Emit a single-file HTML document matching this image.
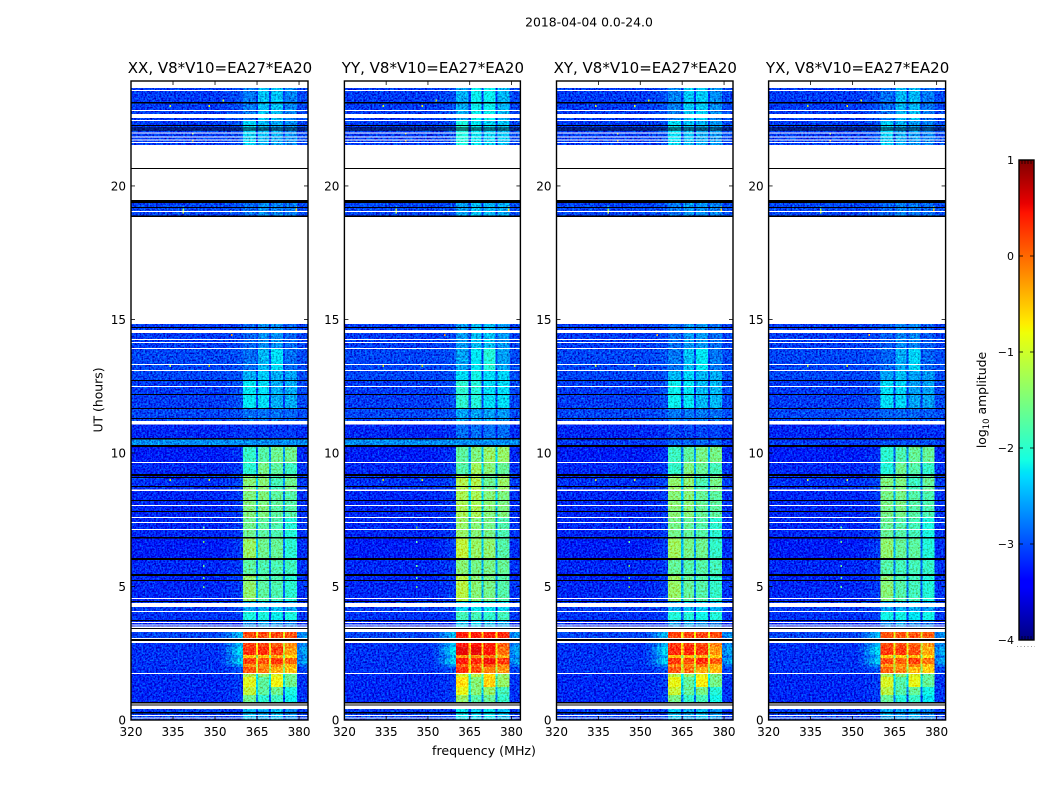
<!DOCTYPE html>
<html lang="en">
<head>
<meta charset="utf-8">
<title>2018-04-04 0.0-24.0</title>
<style>
html,body{margin:0;padding:0;background:#fff;width:1050px;height:800px;overflow:hidden}
svg{display:block}
text{font-family:"DejaVu Sans","Liberation Sans",sans-serif;fill:#000}
</style>
</head>
<body>
<svg id="figure" xmlns="http://www.w3.org/2000/svg" width="1050" height="800" viewBox="0 0 1050 800">
  <defs>
    <filter id="speckle" x="0" y="0" width="1" height="1" color-interpolation-filters="sRGB">
      <feTurbulence type="fractalNoise" baseFrequency="0.55" numOctaves="2" seed="4" result="n"/>
      <feColorMatrix in="n" type="matrix" values="0 0 0 0 .5  1 0 0 0 0  1 0 0 0 0  0 0 0 0 1" result="g"/>
      <feComposite in="SourceGraphic" in2="g" operator="arithmetic" k1="0" k2="1" k3="1.1" k4="-0.55" result="c"/>
      <feComposite in="c" in2="SourceAlpha" operator="in"/>
    </filter>
    <linearGradient id="jet-gradient" x1="0" y1="1" x2="0" y2="0"></linearGradient>
  </defs>
  <text x="589" y="26.5" font-size="12.4" text-anchor="middle">2018-04-04 0.0-24.0</text>
  <text transform="translate(102.5,400) rotate(-90)" font-size="12.4" text-anchor="middle">UT (hours)</text>
  <text x="484" y="755" font-size="12.6" text-anchor="middle">frequency (MHz)</text>
  <text transform="translate(986,400) rotate(-90)" font-size="12.4" text-anchor="middle">log<tspan font-size="8.5" dy="3">10</tspan><tspan dy="-3"> amplitude</tspan></text>
</svg>
<script>
// ---- categories and tick labels ----
const panelTitles = ["XX, V8*V10=EA27*EA20", "YY, V8*V10=EA27*EA20", "XY, V8*V10=EA27*EA20", "YX, V8*V10=EA27*EA20"];
const freqTicks = [320, 335, 350, 365, 380];
const hourTicks = [0, 5, 10, 15, 20];
const colorTicks = [1, 0, -1, -2, -3, -4];

// ---- frequency channels (MHz) ----
const freqEdges = [320, 335, 350, 352, 354, 356, 358, 360, 364.6, 365.4, 369.3, 370, 374.3, 375, 379.3, 381, 383.2];
const columnBand = [-1, -1, -1, -1, -1, -1, -1, 0, -2, 1, -2, 2, -2, 3, -1, -1];
const shoulderWeight = [0, 0, 0, 0.15, 0.4, 0.7, 1, 0, 0, 0, 0, 0, 0, 0, 0.5, 0.7];

// ---- time blocks: UT hours and log10 amplitude per frequency group ----
const blockStart = [0, 0.67, 0.94, 1.24, 1.61, 1.76, 1.99, 2.1, 2.32, 2.43, 2.73, 3.07, 3.41, 3.7, 4.08, 4.46, 5.39, 6.0, 6.82, 7.6, 8.6, 9.2, 9.66, 10.26, 10.56, 11.2, 11.69, 12.7, 13.11, 13.93, 18.88, 21.54, 22.45];
const blockEnd = [0.56, 0.94, 1.24, 1.61, 1.76, 1.99, 2.1, 2.32, 2.43, 2.73, 3.0, 3.35, 3.7, 4.08, 4.46, 5.39, 6.0, 6.82, 7.6, 8.6, 9.2, 9.66, 10.26, 10.56, 11.2, 11.69, 12.7, 13.11, 13.93, 14.83, 19.48, 22.45, 23.67];
const bgLevel = [-3.1, -3.2, -3.2, -3.2, -3.2, -3.15, -3.15, -3.15, -3.15, -3.15, -3.15, -3.05, -3.2, -3.15, -3.1, -3.2, -3.2, -3.25, -3.2, -3.2, -3.15, -3.2, -3.25, -3.1, -3.2, -3.05, -3.1, -3.05, -3.05, -3.1, -3.05, -3.1, -3.1];
const shoulderLevel = [-3.1, -3.1, -3.1, -3.1, -3.1, -3, -2.7, -2.35, -2.6, -2.3, -2.5, -2.5, -3.2, -3.1, -3.05, -3.1, -3.1, -3.1, -3.1, -3.1, -3.05, -3.1, -3.15, -3.1, -3.15, -3, -3, -3, -3, -3.05, -3, -3, -3];
const band1Level = [-2.5, -1.6, -1.1, -0.9, -1.2, 0.05, -0.2, 0.2, -0.5, 0.3, 0.2, 0.15, -2.7, -2.1, -2.6, -1.4, -1.7, -1.35, -1.6, -1.5, -1.45, -2, -1.95, -2.95, -3.1, -2.85, -2.25, -2.55, -2.85, -2.9, -2.85, -2.35, -2.8];
const band2Level = [-2.6, -2, -1.7, -1.7, -1.4, -0.1, -0.2, 0.1, -0.5, 0.3, 0.2, 0.15, -2.6, -2.1, -2.5, -1.7, -1.8, -1.6, -1.7, -1.5, -1.45, -1.55, -1.75, -2.95, -3.1, -2.85, -2.3, -2.4, -2.5, -2.7, -2.7, -2.5, -2.45];
const band3Level = [-2.5, -1.9, -1.6, -0.8, -0.9, -0.4, -0.1, 0.25, -0.4, 0.2, 0.1, 0.15, -2.7, -2.2, -2.5, -1.8, -1.8, -1.65, -1.8, -1.7, -1.85, -1.7, -1.6, -2.95, -3.1, -2.85, -2.55, -2.55, -2.3, -2.7, -2.75, -2.6, -2.45];
const band4Level = [-2.7, -2.2, -2.1, -1.6, -1.6, -0.5, -0.4, 0, -0.6, -0.3, -0.2, 0.1, -2.8, -2.1, -2.6, -2, -1.9, -2, -2.05, -1.75, -1.6, -1.9, -1.6, -2.95, -3.1, -2.9, -2.55, -2.6, -2.85, -2.9, -2.8, -2.7, -2.75];
const stripeLift = [0, 0, 0, 0, 0, 0, 0, 0, 0, 0, 0, 0, 0, 0, 0, 0, 0, 0, 0, 0, 0, 0, 0, 0.4, 0, 0, 0, 0, 0, 0, 0, 0, 0];

// ---- per-polarisation differences ----
const bandPolOffset = [0, 0.25, 0.05, -0.05];
const stripePolGain = [1, 1, 0, 0];

// ---- isolated interference spots ----
const spotHour = [23.0, 23.0, 23.2, 21.97, 21.7, 19.1, 19.05, 19.1, 14.42, 13.25, 13.25, 8.99, 8.99, 7.2, 6.67, 5.77, 5.32, 4.98, 19.2, 19.0, 19.2];
const spotMHz = [334, 348, 353, 342, 342, 338.6, 355.7, 379, 356, 334, 348, 334, 348, 346, 346, 346, 346, 346, 338.6, 338.6, 379];
const spotLevel = [-1, -0.8, -1, -1, -0.5, -1.2, -1.3, -0.5, -0.3, -1.2, -1.2, -1, -1, -1.6, -1.6, -1.6, -1.6, -1.6, -1.8, -1, -1];

// ---- flagged data: white = no data, black = flagged lines (UT hours) ----
const gapFrom = [23.67, 23.56, 22.81, 22.55, 22.43, 21.97, 21.82, 21.7, 21.6, 19.48, 19.03, 14.83, 14.49, 14.23, 14.12, 13.9, 13.3, 13.07, 12.47, 11.07, 9.63, 8.58, 8.01, 7.57, 7.38, 7.12, 4.53, 4.23, 4.04, 3.63, 3.54, 3.45, 3.3, 3.03, 2.88, 1.72, 0.58, 0.41, 0.15, 0.06];
const gapTo = [24, 23.6, 22.85, 22.7, 22.47, 22.01, 21.86, 21.74, 21.64, 21.54, 19.07, 18.88, 14.6, 14.27, 14.16, 13.93, 13.33, 13.11, 12.51, 11.2, 9.66, 8.63, 8.05, 7.6, 7.42, 7.16, 4.57, 4.38, 4.08, 3.67, 3.58, 3.5, 3.39, 3.07, 2.96, 1.76, 0.64, 0.54, 0.19, 0.09];
const flagFrom = [23.09, 22.25, 22.15, 22.08, 20.64, 19.36, 19.18, 18.84, 14.68, 12.7, 12.17, 11.65, 11.27, 10.51, 10.22, 9.14, 9.06, 8.73, 8.2, 7.79, 6.8, 5.99, 5.39, 5.21, 4.42, 3.71, 3.41, 2.96, 0.62, 0.54, 0.24];
const flagTo = [23.15, 22.28, 22.19, 22.12, 20.67, 19.48, 19.21, 18.9, 14.72, 12.73, 12.21, 11.69, 11.31, 10.56, 10.3, 9.21, 9.1, 8.76, 8.24, 7.83, 6.85, 6.07, 5.47, 5.24, 4.46, 3.75, 3.45, 3.03, 0.67, 0.58, 0.3];

// ---- axis limits ----
const freqMin = 320, freqMax = 383.2, hourMin = 0, hourMax = 23.93, ampMin = -4, ampMax = 1;

const SVGNS = "http://www.w3.org/2000/svg";
const fig = document.getElementById("figure");
const panelLefts = [131, 344.4, 556.5, 768.6], panelWidths = [177, 176, 176.5, 177], panelTop = 81, panelBottom = 720;
const cbLeft = 1019, cbRight = 1034, cbTop = 160, cbBottom = 640;

function yScale(h) { return panelBottom - (h - hourMin) / (hourMax - hourMin) * (panelBottom - panelTop); }
function xScale(f, left, width) { return left + (f - freqMin) / (freqMax - freqMin) * width; }
function cbScale(v) { return cbBottom - (v - ampMin) / (ampMax - ampMin) * (cbBottom - cbTop); }

function jetPart(t, stops) {
  for (let i = 1; i < stops.length; i++) {
    if (t <= stops[i][0]) {
      const a = stops[i - 1], b = stops[i];
      return a[1] + (b[1] - a[1]) * (t - a[0]) / (b[0] - a[0]);
    }
  }
  return stops[stops.length - 1][1];
}
const jetR = [[0, 0], [0.35, 0], [0.66, 1], [0.89, 1], [1, 0.5]];
const jetG = [[0, 0], [0.125, 0], [0.375, 1], [0.64, 1], [0.91, 0], [1, 0]];
const jetB = [[0, 0.5], [0.11, 1], [0.34, 1], [0.65, 0], [1, 0]];
function jet(v) {
  const t = Math.max(0, Math.min(1, (v - ampMin) / (ampMax - ampMin)));
  return "rgb(" + Math.round(255 * jetPart(t, jetR)) + "," + Math.round(255 * jetPart(t, jetG)) + "," + Math.round(255 * jetPart(t, jetB)) + ")";
}
function make(tag, parent, attrs) {
  const el = document.createElementNS(SVGNS, tag);
  for (const k in attrs) el.setAttribute(k, attrs[k]);
  parent.appendChild(el);
  return el;
}
function levelAt(b, c, pol) {
  const bands = [band1Level[b], band2Level[b], band3Level[b], band4Level[b]];
  const off = bandPolOffset[pol];
  const bg = bgLevel[b] + stripeLift[b] * stripePolGain[pol];
  const kind = columnBand[c];
  if (kind >= 0) return Math.max(bg, bands[kind] + off);
  if (kind === -2) {
    const left = columnBand[c - 1], right = columnBand[c + 1];
    return Math.max(bg, (bands[left] + bands[right]) / 2 + off - 1);
  }
  return bg + (shoulderLevel[b] - bgLevel[b]) * shoulderWeight[c];
}

panelTitles.forEach(function (title, p) {
  const left = panelLefts[p];
  const width = panelWidths[p];
  const right = left + width;
  const panel = make("g", fig, {});
  
  

  const cells = make("g", panel, { filter: "url(#speckle)", "shape-rendering": "crispEdges" });
  
  
  blockStart.forEach(function (start, b) {
    const y1 = yScale(blockEnd[b]), y0 = yScale(start);
    columnBand.forEach(function (kind, c) {
      const x0 = xScale(freqEdges[c], left, width), x1 = xScale(freqEdges[c + 1], left, width);
      const r = make("rect", cells, { x: x0, y: y1, width: x1 - x0, height: y0 - y1, fill: jet(levelAt(b, c, p)) });
      
      
    });
  });
  spotHour.forEach(function (h, i) {
    const x = xScale(spotMHz[i], left, width);
    const r = make("rect", cells, { x: x - 0.75, y: yScale(h) - 1, width: 1.5, height: 2, fill: jet(spotLevel[i]) });
    
    
  });

  gapFrom.forEach(function (from, i) {
    const y1 = yScale(Math.min(gapTo[i], hourMax)), y0 = yScale(from);
    const r = make("rect", panel, { x: left, y: y1, width: width, height: y0 - y1, fill: "#fff", "shape-rendering": "crispEdges" });
    
    
  });
  flagFrom.forEach(function (from, i) {
    const y1 = yScale(flagTo[i]), y0 = yScale(from);
    const r = make("rect", panel, { x: left, y: y1, width: width, height: y0 - y1, fill: "#000", "shape-rendering": "crispEdges" });
    
    
  });

  freqTicks.forEach(function (f) {
    const x = xScale(f, left, width);
    const t1 = make("line", panel, { x1: x, x2: x, y1: panelBottom, y2: panelBottom - 4, stroke: "#000", "stroke-width": 0.8 });
    
    
    const t2 = make("line", panel, { x1: x, x2: x, y1: panelTop, y2: panelTop + 4, stroke: "#000", "stroke-width": 0.8 });
    
    
    const label = make("text", panel, { x: x, y: 736, "font-size": 12, "text-anchor": "middle" });
    label.textContent = f;
    
    
  });
  hourTicks.forEach(function (h) {
    const y = yScale(h);
    const t1 = make("line", panel, { x1: left, x2: left + 4, y1: y, y2: y, stroke: "#000", "stroke-width": 0.8 });
    
    
    const t2 = make("line", panel, { x1: right, x2: right - 4, y1: y, y2: y, stroke: "#000", "stroke-width": 0.8 });
    
    
    const label = make("text", panel, { x: left - 5, y: y + 4.5, "font-size": 12, "text-anchor": "end" });
    label.textContent = h;
    
    
  });

  const frame = make("rect", panel, { x: left, y: panelTop, width: width, height: panelBottom - panelTop, fill: "none", stroke: "#000", "stroke-width": 1.4 });
  
  
  const head = make("text", panel, { x: (left + right) / 2 + 0.5, y: 73, "font-size": 15, "text-anchor": "middle" });
  head.textContent = title;
  
  
});

// ---- colorbar ----
const grad = document.getElementById("jet-gradient");
[0, 0.11, 0.125, 0.34, 0.35, 0.375, 0.64, 0.65, 0.66, 0.89, 0.91, 1].forEach(function (t) {
  make("stop", grad, { offset: t, "stop-color": jet(ampMin + t * (ampMax - ampMin)) });
});
const cb = make("g", fig, {});


const cbBar = make("rect", cb, { x: cbLeft, y: cbTop, width: cbRight - cbLeft, height: cbBottom - cbTop, fill: "url(#jet-gradient)", stroke: "#000", "stroke-width": 1.4 });


colorTicks.forEach(function (v) {
  const y = cbScale(v);
  const t1 = make("line", cb, { x1: cbLeft, x2: cbLeft + 4, y1: y, y2: y, stroke: "#000", "stroke-width": 0.8 });
  
  
  const t2 = make("line", cb, { x1: cbRight, x2: cbRight - 4, y1: y, y2: y, stroke: "#000", "stroke-width": 0.8 });
  
  
  const label = make("text", cb, { x: 1014, y: y + 4, "font-size": 11, "text-anchor": "end" });
  label.textContent = String(v).replace("-", "\u2212");
  
  
});
[1022, 1025, 1028, 1031].forEach(function (x) {
  const top = make("line", cb, { x1: x, x2: x, y1: cbTop, y2: cbTop + 4, stroke: "#000", "stroke-width": 0.7 });
  
  
  const bottom = make("line", cb, { x1: x, x2: x, y1: cbBottom, y2: cbBottom - 4, stroke: "#000", "stroke-width": 0.7 });
  
  
});
const dots = make("line", cb, { x1: 1017, x2: 1035, y1: 646.5, y2: 646.5, stroke: "#999", "stroke-width": 1, "stroke-dasharray": "1 2.5" });


</script>
</body>
</html>
